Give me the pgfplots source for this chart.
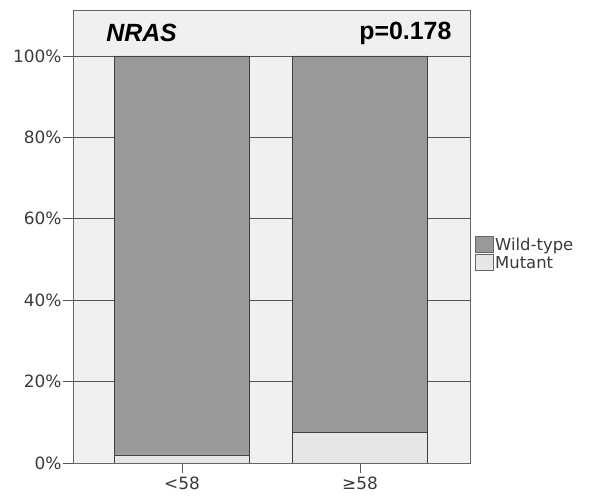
\documentclass[border=0pt]{standalone}
\usepackage{pgfplots}
\pgfplotsset{compat=1.18}
\usepackage{fontspec}
\setmainfont{DejaVu Sans}
\newfontfamily\arial{Liberation Sans}
\definecolor{wild}{HTML}{999999}
\definecolor{mut}{HTML}{E6E6E6}
\definecolor{bg}{HTML}{F0F0F0}
\definecolor{gridc}{HTML}{555555}
\definecolor{txt}{HTML}{3A3A3A}
\begin{document}
\begin{tikzpicture}
\useasboundingbox (-73bp,-34bp) rectangle (521bp,463bp);
\begin{axis}[
  at={(0,0)}, anchor=south west,
  scale only axis, width=397bp, height=453bp,
  xmin=-0.612, xmax=1.618, ymin=0, ymax=111.3,
  ybar stacked, bar width=135bp,
  axis background/.style={fill=bg},
  axis line style={draw=gray!80!black, line width=0.8pt},
  xtick={0,1}, xticklabels={{<58},{≥58}},
  ytick={0,20,40,60,80,100},
  yticklabels={0\%,20\%,40\%,60\%,80\%,100\%},
  ymajorgrids, grid style={draw=gridc, line width=0.6pt},
  tick align=outside, major tick length=10bp,
  xtick pos=bottom, ytick pos=left,
  tick style={draw=gridc, line width=0.6pt},
  tick label style={font=\fontsize{17}{19}\selectfont, text=txt},
  /pgf/number format/assume math mode=true,
  xticklabel style={yshift=0bp},
  yticklabel style={xshift=2bp},
  legend style={at={(1.013,0.502)}, anchor=north west, draw=none, fill=none,
    font=\fontsize{16.5}{18}\selectfont, text=txt, row sep=1bp,
    inner sep=0pt, nodes={inner sep=1pt}},
  legend cell align=left,
  reverse legend,
]
\addplot[fill=mut, draw=black!75, line width=0.6pt,
  legend image code/.code={\draw[fill=mut,draw=gray!80!black,line width=0.8pt] (0bp,-7bp) rectangle (18bp,9bp);}]
  coordinates {(0,2.0) (1,7.6)};
\addlegendentry{Mutant}
\addplot[fill=wild, draw=black!75, line width=0.6pt,
  legend image code/.code={\draw[fill=wild,draw=gray!80!black,line width=0.8pt] (0bp,-7bp) rectangle (18bp,9bp);}]
  coordinates {(0,98.0) (1,92.4)};
\addlegendentry{Wild-type}
\node[anchor=west, font=\arial\bfseries\itshape\fontsize{25}{28}\selectfont] at (rel axis cs:0.075,0.949) {NRAS};
\node[anchor=east, font=\arial\bfseries\fontsize{25}{28}\selectfont] at (rel axis cs:0.962,0.949) {p=0.178};
\end{axis}
\end{tikzpicture}
\end{document}
